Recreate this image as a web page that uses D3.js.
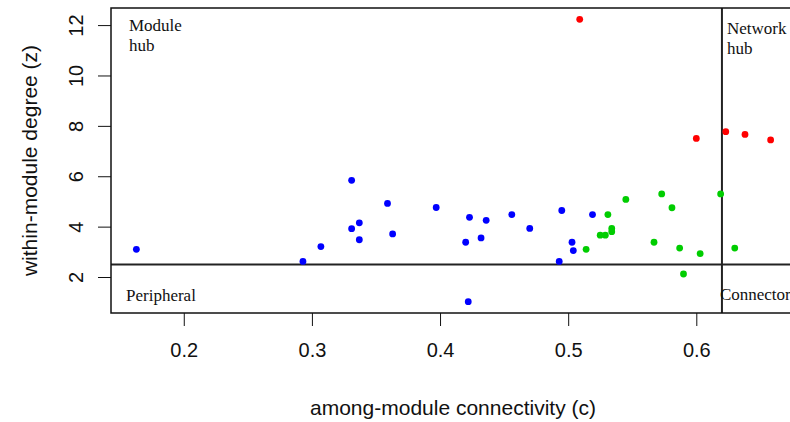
<html>
<head>
<meta charset="utf-8">
<title>Module roles</title>
<style>
body { margin: 0; background: #fff; }
.tick text { font-family: "Liberation Sans", Arial, sans-serif; }
</style>
</head>
<body>
<script src="https://d3js.org/d3.v7.min.js"></script>
<script>
// node roles: among-module connectivity (c) and within-module degree (z)
var peripheralC = [0.163, 0.293, 0.307, 0.331, 0.331, 0.337, 0.337, 0.359, 0.363, 0.397, 0.420,
                   0.423, 0.422, 0.432, 0.436, 0.456, 0.470, 0.493, 0.495, 0.503, 0.504, 0.519];
var peripheralZ = [3.10, 2.62, 3.21, 5.84, 3.92, 4.15, 3.48, 4.92, 3.71, 4.76, 3.38,
                   4.37, 1.02, 3.55, 4.25, 4.48, 3.93, 2.62, 4.64, 3.38, 3.05, 4.48];
var connectorC = [0.514, 0.525, 0.529, 0.531, 0.534, 0.534, 0.545, 0.567, 0.573, 0.581, 0.587,
                  0.590, 0.603, 0.619, 0.630];
var connectorZ = [3.10, 3.66, 3.66, 4.48, 3.93, 3.80, 5.08, 3.38, 5.30, 4.75, 3.15,
                  2.12, 2.93, 5.30, 3.15];
var hubC = [0.509, 0.600, 0.623, 0.638, 0.658];
var hubZ = [12.23, 7.50, 7.77, 7.66, 7.44];

var xTicks = [0.2, 0.3, 0.4, 0.5, 0.6];
var yTicks = [2, 4, 6, 8, 10, 12];
var cCut = 0.62, zCut = 2.5;

// plot box, like R (right side runs off the page)
var box = {left: 111, right: 796, top: 8, bottom: 313};

var groups = [
    {c: peripheralC, z: peripheralZ, color: "#0000ff"},
    {c: connectorC, z: connectorZ, color: "#00cd00"},
    {c: hubC, z: hubZ, color: "#ff0000"}
];

var allC = peripheralC.concat(connectorC, hubC);
var allZ = peripheralZ.concat(connectorZ, hubZ);

// R style 4% padding
function pad(ext) { var d = (ext[1] - ext[0]) * 0.04; return [ext[0] - d, ext[1] + d]; }

var x = d3.scaleLinear().domain(pad(d3.extent(allC))).range([box.left, box.right]);
var y = d3.scaleLinear().domain(pad(d3.extent(allZ))).range([box.bottom, box.top]);

var svg = d3.select("body").append("svg")
    .attr("width", 790)
    .attr("height", 422);

// x axis
var xAxis = svg.append("g")
    .attr("transform", "translate(0," + box.bottom + ")")
    .call(d3.axisBottom(x).tickValues(xTicks).tickSize(13).tickPadding(17)
        .tickFormat(d3.format(".1f")));
xAxis.select(".domain").remove();
xAxis.selectAll("line").attr("stroke", "#111");
xAxis.selectAll("text").style("font-size", "20px").attr("fill", "#111");

// y axis, labels turned like R's
var yAxis = svg.append("g")
    .attr("transform", "translate(" + box.left + ",0)")
    .call(d3.axisLeft(y).tickValues(yTicks).tickSize(13).tickFormat(d3.format("d")));
yAxis.select(".domain").remove();
yAxis.selectAll("line").attr("stroke", "#111");
yAxis.selectAll("text")
    .attr("x", null).attr("dy", null)
    .attr("text-anchor", "middle")
    .attr("transform", "translate(-28,0) rotate(-90)")
    .style("font-size", "20px").attr("fill", "#111");

// threshold lines
svg.append("line")
    .attr("x1", box.left).attr("x2", box.right)
    .attr("y1", y(zCut)).attr("y2", y(zCut))
    .attr("stroke", "#222").attr("stroke-width", 2);
svg.append("line")
    .attr("x1", x(cCut)).attr("x2", x(cCut))
    .attr("y1", box.top).attr("y2", box.bottom)
    .attr("stroke", "#222").attr("stroke-width", 2);

// points
groups.forEach(function(g) {
    svg.append("g").selectAll("circle")
        .data(g.c)
        .enter().append("circle")
        .attr("cx", function(d) { return x(d); })
        .attr("cy", function(d, i) { return y(g.z[i]); })
        .attr("r", 3.4)
        .attr("fill", g.color);
});

// box
svg.append("rect")
    .attr("x", box.left).attr("y", box.top)
    .attr("width", box.right - box.left).attr("height", box.bottom - box.top)
    .attr("fill", "none").attr("stroke", "#111").attr("stroke-width", 1.5);

// role labels
var serif = "'Liberation Serif', 'Times New Roman', serif";
function label(tx, ty, lines) {
    var t = svg.append("text")
        .attr("x", tx).attr("y", ty)
        .style("font-family", serif).style("font-size", "17px")
        .attr("fill", "#111");
    lines.forEach(function(s, i) {
        t.append("tspan").attr("x", tx).attr("dy", i ? 20 : 0).text(s);
    });
}
label(box.left + 18, 31, ["Module", "hub"]);
label(x(cCut) + 5, 34, ["Network", "hub"]);
label(box.left + 15, 301, ["Peripheral"]);
label(x(cCut) - 2, 300, ["Connector"]);

// axis titles
svg.append("text")
    .attr("x", 453).attr("y", 415)
    .attr("text-anchor", "middle")
    .style("font-family", "'Liberation Sans', Arial, sans-serif").style("font-size", "21px")
    .attr("fill", "#111")
    .text("among-module connectivity (c)");

svg.append("text")
    .attr("transform", "translate(37," + ((box.top + box.bottom) / 2) + ") rotate(-90)")
    .attr("text-anchor", "middle")
    .style("font-family", "'Liberation Sans', Arial, sans-serif").style("font-size", "21px")
    .attr("fill", "#111")
    .text("within-module degree (z)");
</script>
</body>
</html>
